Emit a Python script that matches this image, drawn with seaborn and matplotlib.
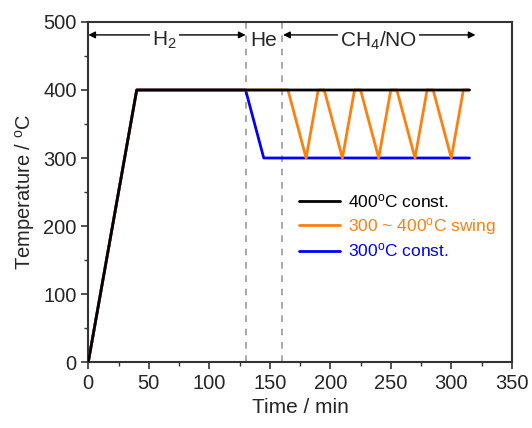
import matplotlib
matplotlib.use("Agg")
import matplotlib.pyplot as plt
import seaborn as sns
import pandas as pd
from matplotlib.ticker import MultipleLocator

# Data
t_const400 = [0, 40, 315]
T_const400 = [0, 400, 400]

t_swing = [0, 40, 165, 180, 190, 195, 210, 220, 225, 240, 250, 255, 270, 280, 285, 300, 310, 315]
T_swing = [0, 400, 400, 300, 400, 400, 300, 400, 400, 300, 400, 400, 300, 400, 400, 300, 400, 400]

t_const300 = [0, 40, 130, 145, 315]
T_const300 = [0, 400, 400, 300, 300]

labels = ["400$^\\mathrm{o}$C const.", "300 ~ 400$^\\mathrm{o}$C swing", "300$^\\mathrm{o}$C const."]
colors = ["#000000", "#FF7F0E", "#0000FF"]
phase_bounds = [130, 160]

sns.set_style("ticks")
plt.rcParams["font.family"] = ["Liberation Sans", "DejaVu Sans"]
plt.rcParams["mathtext.fontset"] = "custom"
plt.rcParams["mathtext.rm"] = "Liberation Sans"
plt.rcParams["mathtext.it"] = "Liberation Sans"

fig = plt.figure(figsize=(5.32, 4.28), dpi=100)
ax = fig.add_axes([0.166, 0.1542, 0.796, 0.7944])

for xv in phase_bounds:
    ax.axvline(xv, color="#999999", ls=(0, (4, 4)), lw=1.2, zorder=1)

series = [(t_const300, T_const300, 2), (t_swing, T_swing, 1), (t_const400, T_const400, 0)]
handles = {}
for ts, Ts, idx in series:
    df = pd.DataFrame({"t": ts, "T": Ts})
    sns.lineplot(data=df, x="t", y="T", ax=ax, color=colors[idx], lw=2,
                 sort=False, estimator=None, zorder=3 + (2 - idx))
    handles[idx] = ax.lines[-1]

leg = ax.legend([handles[0], handles[1], handles[2]], labels, loc="upper left",
                bbox_to_anchor=(0.46, 0.545), frameon=False, fontsize=12.5,
                handlelength=2.4, labelspacing=0.3, handletextpad=0.45)
for txt, c in zip(leg.get_texts(), colors):
    txt.set_color(c)

ax.set_xlim(0, 350)
ax.set_ylim(0, 500)
ax.xaxis.set_major_locator(MultipleLocator(50))
ax.xaxis.set_minor_locator(MultipleLocator(25))
ax.yaxis.set_major_locator(MultipleLocator(100))
ax.yaxis.set_minor_locator(MultipleLocator(50))
ax.tick_params(which="major", direction="out", length=5, width=1.2, labelsize=14.5, color="#333333")
ax.tick_params(which="minor", direction="out", length=3, width=1.0, color="#333333")
for s in ax.spines.values():
    s.set_linewidth(1.5)
    s.set_color("#333333")

ax.set_xlabel("Time / min", fontsize=15)
ax.set_ylabel("Temperature / $^\\mathrm{o}$C", fontsize=14.5)

# Phase annotations
ya = 481
arrow_kw = dict(arrowstyle="-|>", color="black", lw=1.0, mutation_scale=10, shrinkA=0, shrinkB=0)
ax.annotate("", xy=(0, ya), xytext=(63, ya), arrowprops=arrow_kw)
ax.annotate("", xy=(130, ya), xytext=(63, ya), arrowprops=arrow_kw)
ax.annotate("", xy=(161, ya), xytext=(240, ya), arrowprops=arrow_kw)
ax.annotate("", xy=(320, ya), xytext=(240, ya), arrowprops=arrow_kw)
bbox = dict(facecolor="white", edgecolor="none", pad=1.5)
ax.text(63, 473, "H$_2$", ha="center", va="center", fontsize=15, bbox=bbox, zorder=5)
ax.text(145, 473, "He", ha="center", va="center", fontsize=15, zorder=5)
ax.text(240, 473, "CH$_4$/NO", ha="center", va="center", fontsize=15, bbox=bbox, zorder=5)

fig.savefig("out.png", dpi=100)
